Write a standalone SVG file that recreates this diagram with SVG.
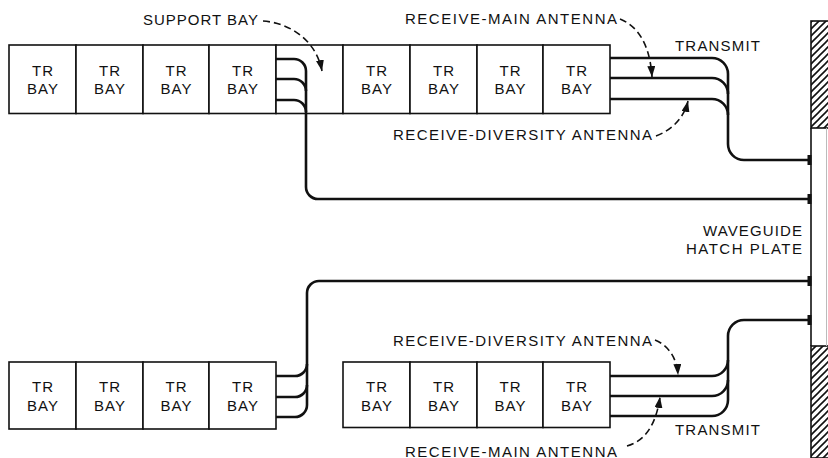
<svg xmlns="http://www.w3.org/2000/svg" width="828" height="458" viewBox="0 0 828 458">
<style>
.bay{fill:#fff;stroke:#111;stroke-width:1.6}
.t{font-family:"Liberation Sans",Arial,sans-serif;font-size:15px;fill:#111}
.bt{font-family:"Liberation Sans",Arial,sans-serif;font-size:15px;fill:#111;text-anchor:middle;letter-spacing:1px}
.cable{fill:none;stroke:#111;stroke-width:2.6;stroke-linecap:butt}
.lead{fill:none;stroke:#111;stroke-width:1.6;stroke-dasharray:7 4}
.term{fill:#111}
.wall{fill:url(#hatch);stroke:#111;stroke-width:1.6}
</style>
<defs>
<pattern id="hatch" patternUnits="userSpaceOnUse" width="7" height="7">
<rect width="7" height="7" fill="#fff"/>
<path d="M-1,1 L1,-1 M0,7 L7,0 M6,8 L8,6" stroke="#111" stroke-width="1.6"/>
</pattern>
<marker id="ah" markerUnits="userSpaceOnUse" markerWidth="11" markerHeight="8" refX="11" refY="4" orient="auto">
<path d="M0,0 L11,4 L0,8 z" fill="#111"/>
</marker>
</defs>

<g id="top-left-bays">
<rect class="bay" x="9" y="45" width="67" height="68.5"/>
<rect class="bay" x="76" y="45" width="67" height="68.5"/>
<rect class="bay" x="143" y="45" width="66" height="68.5"/>
<rect class="bay" x="209" y="45" width="67" height="68.5"/>
<text class="bt" x="43" y="76">TR</text><text class="bt" x="43" y="94">BAY</text>
<text class="bt" x="110" y="76">TR</text><text class="bt" x="110" y="94">BAY</text>
<text class="bt" x="176.5" y="76">TR</text><text class="bt" x="176.5" y="94">BAY</text>
<text class="bt" x="243" y="76">TR</text><text class="bt" x="243" y="94">BAY</text>
</g>
<g id="support-bay">
<rect class="bay" x="276" y="45" width="67" height="68.5"/>
</g>
<g id="top-right-bays">
<rect class="bay" x="343" y="45" width="67" height="68.5"/>
<rect class="bay" x="410" y="45" width="67" height="68.5"/>
<rect class="bay" x="477" y="45" width="66" height="68.5"/>
<rect class="bay" x="543" y="45" width="67" height="68.5"/>
<text class="bt" x="377" y="76">TR</text><text class="bt" x="377" y="94">BAY</text>
<text class="bt" x="444" y="76">TR</text><text class="bt" x="444" y="94">BAY</text>
<text class="bt" x="510.5" y="76">TR</text><text class="bt" x="510.5" y="94">BAY</text>
<text class="bt" x="577" y="76">TR</text><text class="bt" x="577" y="94">BAY</text>
</g>
<g id="bottom-left-bays">
<rect class="bay" x="9" y="362" width="67" height="67"/>
<rect class="bay" x="76" y="362" width="67" height="67"/>
<rect class="bay" x="143" y="362" width="66" height="67"/>
<rect class="bay" x="209" y="362" width="67" height="67"/>
<text class="bt" x="43" y="392">TR</text><text class="bt" x="43" y="411">BAY</text>
<text class="bt" x="110" y="392">TR</text><text class="bt" x="110" y="411">BAY</text>
<text class="bt" x="176.5" y="392">TR</text><text class="bt" x="176.5" y="411">BAY</text>
<text class="bt" x="243" y="392">TR</text><text class="bt" x="243" y="411">BAY</text>
</g>
<g id="bottom-right-bays">
<rect class="bay" x="343" y="362" width="67" height="65.5"/>
<rect class="bay" x="410" y="362" width="67" height="65.5"/>
<rect class="bay" x="477" y="362" width="66" height="65.5"/>
<rect class="bay" x="543" y="362" width="67" height="65.5"/>
<text class="bt" x="377" y="392">TR</text><text class="bt" x="377" y="410.5">BAY</text>
<text class="bt" x="444" y="392">TR</text><text class="bt" x="444" y="410.5">BAY</text>
<text class="bt" x="510.5" y="392">TR</text><text class="bt" x="510.5" y="410.5">BAY</text>
<text class="bt" x="577" y="392">TR</text><text class="bt" x="577" y="410.5">BAY</text>
</g>

<g id="waveguide-hatch-plate">
<rect class="wall" x="811" y="21" width="19" height="107"/>
<rect class="wall" x="811" y="346" width="19" height="112"/>
<line x1="811" y1="128" x2="811" y2="346" stroke="#111" stroke-width="1.6"/>
<line x1="826.5" y1="128" x2="826.5" y2="346" stroke="#bbb" stroke-width="1"/>
<text class="t" x="703" y="235.5" textLength="99" lengthAdjust="spacing">WAVEGUIDE</text>
<text class="t" x="686" y="254" textLength="116" lengthAdjust="spacing">HATCH PLATE</text>
</g>

<g id="connectors">
<path class="cable" d="M276,59 H294 A12,12 0 0 1 306,71 V187 A12,12 0 0 0 318,199 H810"/>
<path class="cable" d="M276,79 H294 A12,12 0 0 1 306,91"/>
<path class="cable" d="M276,100 H294 A12,12 0 0 1 306,112"/>
<path class="cable" d="M610,58 H712 A16,16 0 0 1 728,74 V144 A16,16 0 0 0 744,160 H810"/>
<path class="cable" d="M610,78 H712 A16,16 0 0 1 728,94"/>
<path class="cable" d="M610,99 H712 A16,16 0 0 1 728,115"/>
<path class="cable" d="M276,417 H295 A12,12 0 0 0 307,405 V293 A12,12 0 0 1 319,281 H810"/>
<path class="cable" d="M276,397 H295 A12,12 0 0 0 307,385"/>
<path class="cable" d="M276,376 H295 A12,12 0 0 0 307,364"/>
<path class="cable" d="M610,416 H712 A16,16 0 0 0 728,400 V336 A16,16 0 0 1 744,320 H810"/>
<path class="cable" d="M610,396 H712 A16,16 0 0 0 728,380"/>
<path class="cable" d="M610,376 H712 A16,16 0 0 0 728,360"/>
<rect class="term" x="807.5" y="155" width="4" height="10"/>
<rect class="term" x="807.5" y="194" width="4" height="10"/>
<rect class="term" x="807.5" y="276" width="4" height="10"/>
<rect class="term" x="807.5" y="315" width="4" height="10"/>
</g>

<g id="labels">
<text class="t" x="143" y="25" textLength="115" lengthAdjust="spacing">SUPPORT BAY</text>
<path class="lead" d="M263,21 C290,23 316,40 322,71" marker-end="url(#ah)"/>
<text class="t" x="405" y="24" textLength="212" lengthAdjust="spacing">RECEIVE-MAIN ANTENNA</text>
<path class="lead" d="M620,19 C638,26 650,45 652,77" marker-end="url(#ah)"/>
<text class="t" x="675" y="51" textLength="85" lengthAdjust="spacing">TRANSMIT</text>
<text class="t" x="393" y="140" textLength="259" lengthAdjust="spacing">RECEIVE-DIVERSITY ANTENNA</text>
<path class="lead" d="M656,136 C672,130 684,118 688,101" marker-end="url(#ah)"/>
<text class="t" x="393" y="346" textLength="259" lengthAdjust="spacing">RECEIVE-DIVERSITY ANTENNA</text>
<path class="lead" d="M655,340 C668,345 677,358 678,375" marker-end="url(#ah)"/>
<text class="t" x="675" y="435" textLength="85" lengthAdjust="spacing">TRANSMIT</text>
<text class="t" x="405" y="456.5" textLength="212" lengthAdjust="spacing">RECEIVE-MAIN ANTENNA</text>
<path class="lead" d="M627,446 C645,441 656,425 660,397" marker-end="url(#ah)"/>
</g>
</svg>
